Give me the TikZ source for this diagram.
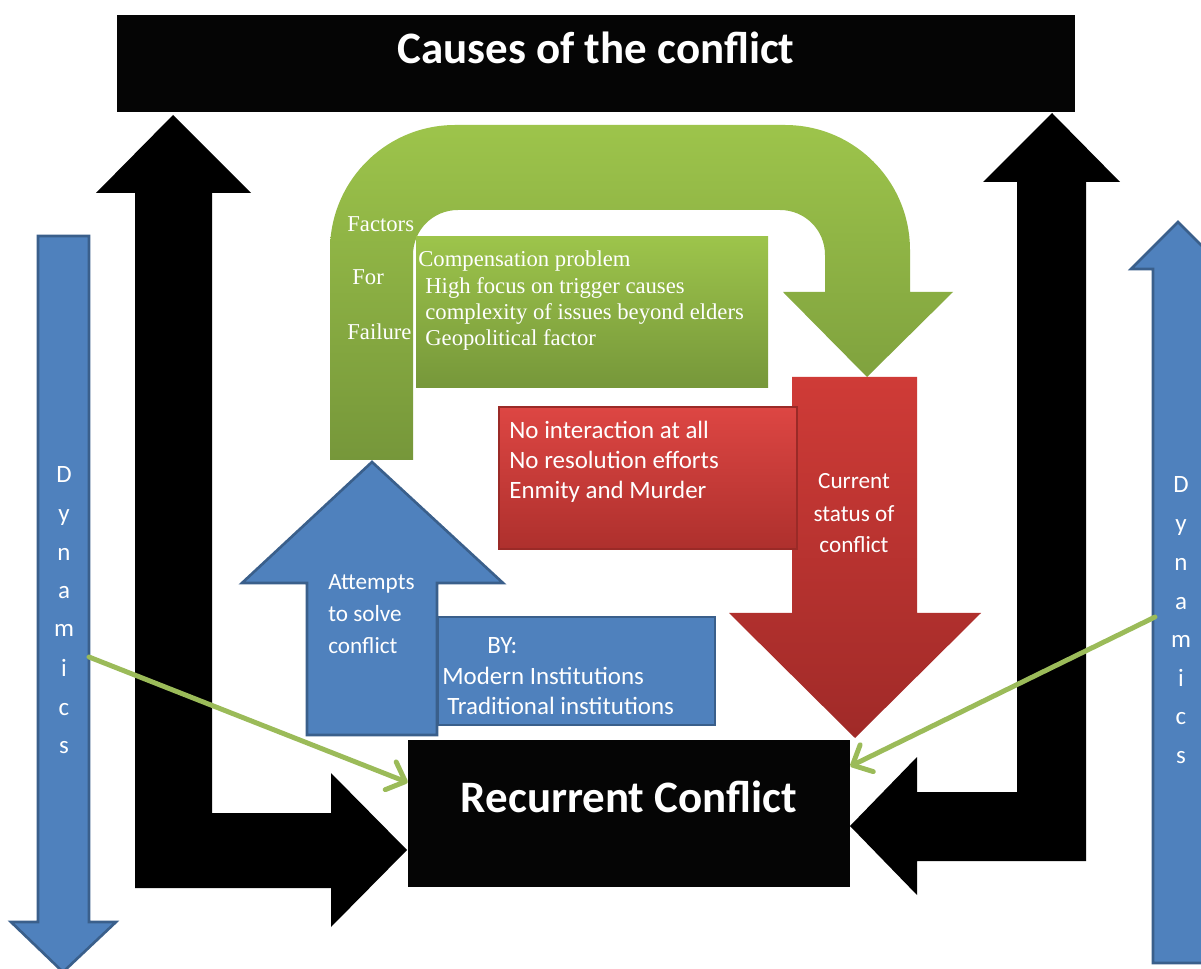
\documentclass[tikz,border=0pt]{standalone}
\usepackage{fontspec}
\setmainfont{Carlito}
\newfontfamily\timesface{Liberation Serif}
\usetikzlibrary{arrows.meta,calc}

\definecolor{bluefill}{HTML}{4F81BD}
\definecolor{blueedge}{HTML}{3A5F8B}
\definecolor{greentop}{HTML}{9DC44B}
\definecolor{greenbot}{HTML}{76973A}
\definecolor{redtop}{HTML}{CF3B37}
\definecolor{redbot}{HTML}{A02A28}
\definecolor{redboxtop}{HTML}{DD4643}
\definecolor{redboxbot}{HTML}{AE302D}
\definecolor{rededge}{HTML}{9A2A27}
\definecolor{linkgreen}{HTML}{9BBB59}
\definecolor{nearblack}{HTML}{050505}

\tikzset{
  blackbox/.style={fill=nearblack, draw=none, inner sep=0pt, rectangle},
  blackarrow/.style={fill=black},
  bluearrow/.style={fill=bluefill, draw=blueedge, line width=1.5pt, line join=miter},
  greenshape/.style={top color=greentop, bottom color=greenbot, draw=none},
  redshape/.style={top color=redtop, bottom color=redbot, draw=none},
  redbox/.style={top color=redboxtop, bottom color=redboxbot, draw=rededge, line width=0.6pt},
  link/.style={draw=linkgreen, line width=2.8pt, line cap=round,
    -{Straight Barb[length=9pt,width=17pt,round]}},
  title/.style={text=white, font=\fontsize{25.6}{30}\selectfont\bfseries, inner sep=0pt},
  bodytext/.style={text=white, font=\fontsize{14.2}{17}\selectfont, inner sep=0pt},
  smalltext/.style={text=white, font=\fontsize{13.2}{16}\selectfont, inner sep=0pt},
  serifnote/.style={text=white, font=\timesface\fontsize{12.9}{15}\selectfont, inner sep=0pt},
}

\begin{document}
\begin{tikzpicture}[x=0.02cm, y=-0.02cm]
\useasboundingbox (0,0) rectangle (1201,969);
\clip (0,0) rectangle (1201,969);
\fill[white] (0,0) rectangle (1201,969);

% the two black feedback arrows
\path[blackarrow] (135,193) -- (96,193) -- (173,115) -- (251,193) -- (212,193)
  -- (212,813) -- (331,813) -- (331,773) -- (407,850) -- (331,927) -- (331,888)
  -- (135,888) -- cycle;
\path[blackarrow] (1017,182) -- (983,182) -- (1052,113) -- (1120,182) -- (1086,182)
  -- (1086,861) -- (917,861) -- (917,895) -- (850,826) -- (917,757) -- (917,792)
  -- (1017,792) -- cycle;

% main boxes
\node[blackbox, minimum width=19.16cm, minimum height=1.94cm] (causes) at (596,63.5) {};
\node[title, anchor=base] (causestext) at (596,64) {Causes of the conflict};

% green U-turn arrow
\path[greenshape] (330,460) -- (330,250)
  .. controls (330,181) and (386,125) .. (455,125) -- (785,125)
  .. controls (854,125) and (910,181) .. (910,250) -- (910,292)
  -- (953,292) -- (867,377) -- (783,292) -- (825,292) -- (825,255)
  .. controls (825,230) and (805,210) .. (780,210) -- (458,210)
  .. controls (433,210) and (413,230) .. (413,255) -- (413,460) -- cycle;
\node[serifnote, anchor=base west] (ff1) at (347,232) {Factors};
\node[serifnote, anchor=base west] (ff2) at (352,285) {For};
\node[serifnote, anchor=base west] (ff3) at (347,340) {Failure};

% green list of factors
\path[greenshape] (416,237) rectangle (768,388);
\node[serifnote, anchor=base west] (gb1) at (418,267) {Compensation problem};
\node[serifnote, anchor=base west] (gb2) at (425,294) {High focus on trigger causes};
\node[serifnote, anchor=base west] (gb3) at (425,320) {complexity of issues beyond elders};
\node[serifnote, anchor=base west] (gb4) at (425,346) {Geopolitical factor};

% red arrow: current status
\path[redshape] (792,377) -- (917,377) -- (917,613) -- (981,613) -- (855,738)
  -- (729,613) -- (792,613) -- cycle;
\node[smalltext, anchor=base] (cs1) at (854,489) {Current};
\node[smalltext, anchor=base] (cs2) at (854,521) {status of};
\node[smalltext, anchor=base] (cs3) at (854,553) {conflict};

% red box
\path[redbox] (499,407) rectangle (797,549);
\node[bodytext, anchor=base west] (rb1) at (509,439) {No interaction at all};
\node[bodytext, anchor=base west] (rb2) at (509,469) {No resolution efforts};
\node[bodytext, anchor=base west] (rb3) at (509,499) {Enmity and Murder};

% blue arrow: attempts
\path[bluearrow] (307,735) -- (307,583) -- (242,583) -- (372,462) -- (503,583)
  -- (437,583) -- (437,735) -- cycle;
\node[smalltext, anchor=base west] (at1) at (328,590) {Attempts};
\node[smalltext, anchor=base west] (at2) at (328,622) {to solve};
\node[smalltext, anchor=base west] (at3) at (328,653) {conflict};

% blue box: institutions
\path[bluearrow] (438,617) rectangle (715,725);
\node[bodytext, anchor=base west] (by1) at (487,653) {BY:};
\node[bodytext, anchor=base west] (by2) at (442,684) {Modern Institutions};
\node[bodytext, anchor=base west] (by3) at (447,714) {Traditional institutions};

% recurrent conflict
\node[blackbox, minimum width=8.84cm, minimum height=2.94cm] (rc) at (629,813.5) {};
\node[title, anchor=base] (rctext) at (629,812) {Recurrent Conflict};

% dynamics arrows
\path[bluearrow] (38,236) -- (89,236) -- (89,922) -- (116,922) -- (63,972)
  -- (11,922) -- (38,922) -- cycle;
\foreach \l/\yy [count=\i] in {D/483,y/522,n/561,a/599,m/637,i/676,c/715,s/753}
  \node[bodytext, anchor=base] (dl\i) at (64,\yy) {\l};
\path[bluearrow] (1153,963) -- (1153,269) -- (1131,269) -- (1178,222) -- (1225,269)
  -- (1203,269) -- (1203,963) -- cycle;
\foreach \l/\yy [count=\i] in {D/493,y/532,n/571,a/609,m/647,i/686,c/724,s/763}
  \node[bodytext, anchor=base] (dr\i) at (1181,\yy) {\l};

% dynamics feeding the recurrent conflict
\coordinate (dynLout) at (89,657);
\coordinate (dynRout) at (1155,617);
\draw[link] (dynLout) -- ($(rc.north west)!0.29!(rc.south west)$);
\draw[link] (dynRout) -- ($(rc.north east)!0.18!(rc.south east)$);
\end{tikzpicture}
\end{document}
